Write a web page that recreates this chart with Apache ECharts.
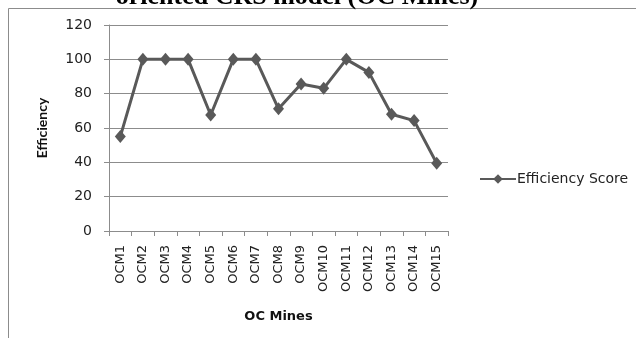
<!DOCTYPE html>
<html>
<head>
<meta charset="utf-8">
<script src="https://cdn.jsdelivr.net/npm/echarts@6/dist/echarts.min.js"></script>
<style>html,body{margin:0;padding:0;background:#fff;}#c{width:636px;height:338px;}</style>
</head>
<body>
<div id="c"></div>
<script>
const categories = ["OCM1","OCM2","OCM3","OCM4","OCM5","OCM6","OCM7","OCM8","OCM9","OCM10","OCM11","OCM12","OCM13","OCM14","OCM15"];
const efficiencyScore = [55, 100, 100, 100, 67.6, 100, 100, 71.2, 85.6, 83.1, 100, 92.4, 68, 64.3, 39.5];
const yTicks = [0, 20, 40, 60, 80, 100, 120];
const titleText = "oriented CRS model (OC Mines)";
const seriesName = "Efficiency Score";

const chart = echarts.init(document.getElementById('c'), null, {renderer: 'canvas'});
const font = '"DejaVu Sans", sans-serif';
chart.setOption({
  animation: false,
  backgroundColor: '#fff',
  title: {
    text: titleText,
    left: 292, textAlign: 'center',
    top: -21,
    textStyle: {fontFamily: '"Liberation Serif", serif', fontWeight: 'bold', fontSize: 26, color: '#000'}
  },
  graphic: [{
    type: 'rect', silent: true, z: -1,
    shape: {x: 8.5, y: 8.5, width: 700, height: 400},
    style: {fill: 'none', stroke: '#8c8c8c', lineWidth: 1}
  }],
  legend: {
    data: [seriesName],
    left: 474, top: 167,
    itemWidth: 36, itemHeight: 12, itemGap: 2,
    textStyle: {fontFamily: font, fontSize: 14, color: '#222', padding: [0,0,0,-4]}
  },
  grid: {left: 109, right: 188, top: 25, bottom: 107},
  xAxis: {
    type: 'category', data: categories, boundaryGap: true,
    name: 'OC Mines', nameLocation: 'middle', nameGap: 79,
    nameTextStyle: {fontFamily: font, fontSize: 13, fontWeight: 'bold', color: '#111'},
    axisLine: {lineStyle: {color: '#8c8c8c'}},
    axisTick: {show: true, interval: 0, length: 5, lineStyle: {color: '#8c8c8c'}},
    axisLabel: {rotate: 90, interval: 0, margin: 14, fontFamily: font, fontSize: 13, color: '#222'}
  },
  yAxis: {
    type: 'value', min: 0, max: 120, interval: 20,
    name: 'Efficiency', nameLocation: 'middle', nameGap: 60, nameRotate: 90,
    nameTextStyle: {fontFamily: 'Lato, sans-serif', fontSize: 14, fontWeight: 'bold', color: '#111'},
    axisLine: {show: true, lineStyle: {color: '#8c8c8c'}},
    axisTick: {show: true, length: 5, lineStyle: {color: '#8c8c8c'}},
    axisLabel: {margin: 17, fontFamily: font, fontSize: 14, color: '#222',
      formatter: v => yTicks.includes(v) ? String(v) : ''},
    splitLine: {lineStyle: {color: '#8c8c8c', width: 1}}
  },
  series: [{
    name: seriesName, type: 'line', data: efficiencyScore,
    symbol: 'diamond', symbolSize: [11, 13],
    lineStyle: {color: '#595959', width: 3},
    itemStyle: {color: '#595959'}
  }]
});
</script>
</body>
</html>
